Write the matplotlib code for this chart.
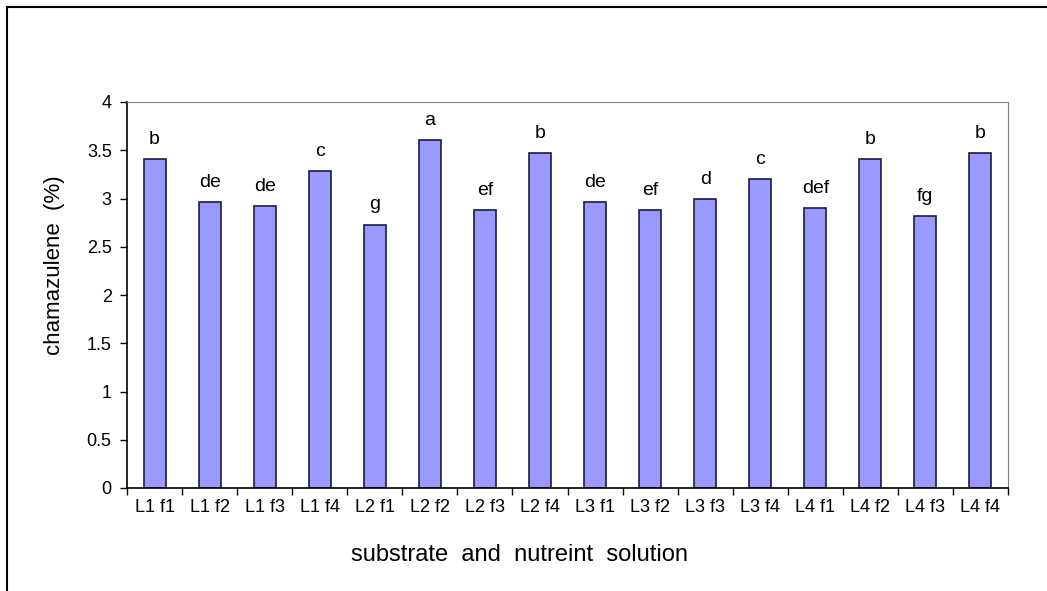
import matplotlib
matplotlib.use('Agg')
from matplotlib import pyplot as plt
from matplotlib.lines import Line2D
import numpy as np

plt.rcParams['font.family'] = ['Liberation Sans', 'DejaVu Sans']

treatments = ['L1 f1', 'L1 f2', 'L1 f3', 'L1 f4',
              'L2 f1', 'L2 f2', 'L2 f3', 'L2 f4',
              'L3 f1', 'L3 f2', 'L3 f3', 'L3 f4',
              'L4 f1', 'L4 f2', 'L4 f3', 'L4 f4']
chamazulene = [3.41, 2.96, 2.92, 3.28,
               2.73, 3.61, 2.88, 3.47,
               2.96, 2.88, 2.99, 3.20,
               2.90, 3.41, 2.82, 3.47]
letters = ['b', 'de', 'de', 'c',
           'g', 'a', 'ef', 'b',
           'de', 'ef', 'd', 'c',
           'def', 'b', 'fg', 'b']
yticks = [0, 0.5, 1, 1.5, 2, 2.5, 3, 3.5, 4]

W, H = 1047, 591
fig = plt.figure(figsize=(W / 100, H / 100), dpi=100)
ax = fig.add_axes([127 / W, 1 - 488 / H, (1008 - 127) / W, (488 - 102) / H])

x = np.arange(len(treatments))
bars = ax.bar(x, chamazulene, width=0.4, color='#9999ff', edgecolor='#1c1c40', linewidth=1.2)

for b, lab in zip(bars, letters):
    ax.annotate(lab, (b.get_x() + b.get_width() / 2, b.get_height()),
                xytext=(0, 8), textcoords='offset points',
                ha='center', va='bottom', fontsize=14)

ax.set_xlim(-0.5, len(treatments) - 0.5)
ax.set_ylim(0, 4)
ax.set_yticks(yticks)
ax.set_yticklabels([('%g' % v) for v in yticks], fontsize=13)
ax.set_xticks(x)
ax.set_xticklabels(treatments, fontsize=13)
ax.tick_params(axis='x', length=0, pad=8)
ax.set_xticks(np.arange(-0.5, len(treatments)), minor=True)
ax.tick_params(axis='x', which='minor', length=5, width=1, direction='out', color='black')
ax.tick_params(axis='y', length=5, width=1, direction='out', pad=6)

for s in ['top', 'right']:
    ax.spines[s].set_color('#808080')
for s in ['left', 'bottom']:
    ax.spines[s].set_color('black')
    ax.spines[s].set_linewidth(1.2)

ax.set_ylabel('chamazulene  (%)', fontsize=16)
ax.yaxis.set_label_coords(-0.07, 0.578)
ax.set_xlabel('substrate  and  nutreint  solution', fontsize=17)
ax.xaxis.set_label_coords(0.445, -0.145)

# outer frame (left and top edges visible)
fig.add_artist(Line2D([6.5 / W, 6.5 / W], [0, 1 - 6.5 / H], color='black', lw=1.5, transform=fig.transFigure))
fig.add_artist(Line2D([6.5 / W, 1], [1 - 6.5 / H, 1 - 6.5 / H], color='black', lw=1.5, transform=fig.transFigure))

fig.savefig('out.png', dpi=100)
